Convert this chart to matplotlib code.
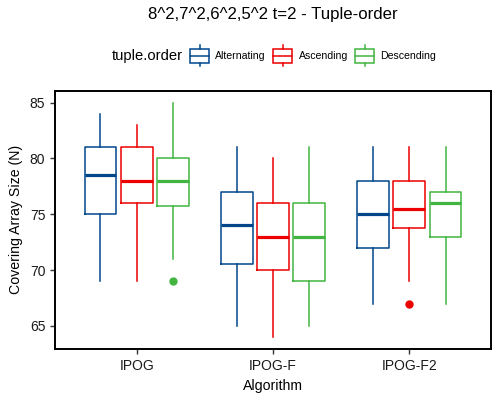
import matplotlib
matplotlib.use("Agg")
import matplotlib.pyplot as plt
from matplotlib.legend_handler import HandlerBase
from matplotlib.patches import Rectangle, Patch
from matplotlib.lines import Line2D

plt.rcParams['font.family'] = ['Liberation Sans', 'DejaVu Sans']

algorithms = ['IPOG', 'IPOG-F', 'IPOG-F2']
orders = ['Alternating', 'Ascending', 'Descending']
colors = ['#00468B', '#ED0000', '#42B540']

# one row per tuple order, one value per algorithm
whisker_low = [[69, 65, 67], [69, 64, 69], [71, 65, 67]]
q1 = [[75, 70.5, 72], [76, 70, 73.75], [75.75, 69, 73]]
median = [[78.5, 74, 75], [78, 73, 75.5], [78, 73, 76]]
q3 = [[81, 77, 78], [81, 76, 78], [80, 76, 77]]
whisker_high = [[84, 81, 81], [83, 80, 81], [85, 81, 81]]
outliers = [[[], [], []], [[], [], [67]], [[69], [], []]]

dodge = 0.8 / 3
box_w = 0.7 / 3

fig = plt.figure(figsize=(5, 4), dpi=100)
ax = fig.add_axes([0.11, 0.128, 0.872, 0.645])

for i, order in enumerate(orders):
    c = colors[i]
    stats = []
    for j in range(len(algorithms)):
        stats.append(dict(whislo=whisker_low[i][j], q1=q1[i][j], med=median[i][j],
                          q3=q3[i][j], whishi=whisker_high[i][j], fliers=outliers[i][j]))
    pos = [j + 1 + (i - 1) * dodge for j in range(len(algorithms))]
    ax.bxp(stats, positions=pos, widths=box_w, showcaps=False, manage_ticks=False,
           boxprops=dict(color=c, linewidth=1.1),
           whiskerprops=dict(color=c, linewidth=1.1),
           medianprops=dict(color=c, linewidth=2.3, solid_capstyle='butt'),
           flierprops=dict(marker='o', markerfacecolor=c, markeredgecolor=c,
                           markersize=5, linestyle='none'))

ax.set_xlim(0.4, 3.6)
ax.set_ylim(62.95, 86.05)
ax.set_xticks([1, 2, 3])
ax.set_xticklabels(algorithms)
ax.set_yticks([65, 70, 75, 80, 85])
ax.tick_params(axis='both', labelsize=10, length=3.5, width=1, color='#333333',
               labelcolor='#1a1a1a', pad=3.5)
for s in ax.spines.values():
    s.set_linewidth(1.4)
    s.set_color('black')
ax.set_xlabel('Algorithm', fontsize=10.2, labelpad=5)
ax.set_ylabel('Covering Array Size (N)', fontsize=10.2, labelpad=5)

fig.text(0.546, 1 - 15 / 400, '8^2,7^2,6^2,5^2 t=2 - Tuple-order',
         ha='center', va='center', fontsize=12.1)


class BoxKey(HandlerBase):
    def create_artists(self, legend, orig_handle, xdescent, ydescent, width, height,
                       fontsize, trans):
        c = orig_handle.get_edgecolor()
        x0, y0 = -xdescent, -ydescent
        bx0 = x0 + 0.05 * width
        bw = 0.9 * width
        by0 = y0 + 0.17 * height
        bh = 0.66 * height
        xm = x0 + width / 2
        arts = [
            Rectangle((bx0, by0), bw, bh, fill=False, edgecolor=c, lw=1.1, transform=trans),
            Line2D([bx0, bx0 + bw], [by0 + bh / 2] * 2, color=c, lw=1.1, transform=trans),
            Line2D([xm, xm], [y0, by0], color=c, lw=1.1, transform=trans),
            Line2D([xm, xm], [by0 + bh, y0 + height], color=c, lw=1.1, transform=trans),
        ]
        return arts


handles = [Patch(edgecolor=c, facecolor='none') for c in colors]
fig.text(112 / 500, 1 - 55.7 / 400, 'tuple.order', ha='left', va='center', fontsize=10.6)
fig.legend(handles, orders, loc='center left', bbox_to_anchor=(189 / 500, 1 - 55.7 / 400),
           ncol=3, frameon=False, fontsize=7.6, borderpad=0, borderaxespad=0,
           handlelength=2.0, handleheight=2.7, handletextpad=0.5, columnspacing=0.6,
           handler_map={Patch: BoxKey()})

fig.savefig('out.png', dpi=100)
